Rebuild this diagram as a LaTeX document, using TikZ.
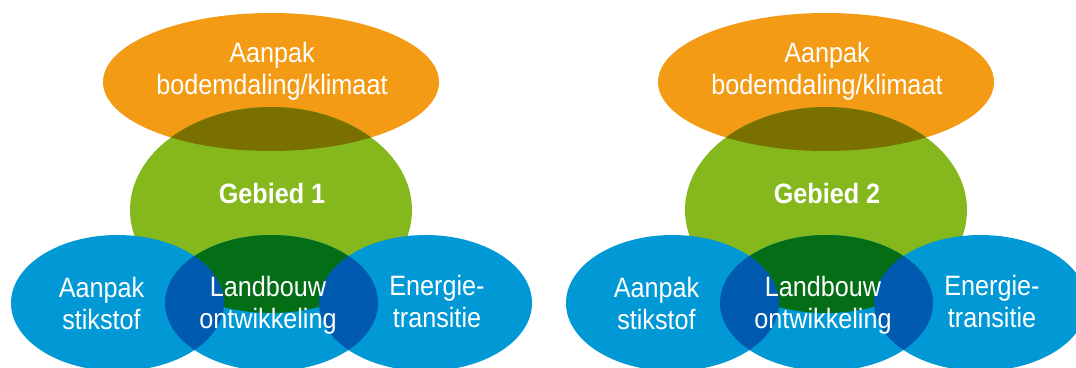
\documentclass[tikz,border=0pt]{standalone}
\usepackage{fontspec}
\setmainfont[FakeStretch=0.9]{Liberation Sans}
\usepackage{xcolor}
\usepackage{tikz}
\usetikzlibrary{positioning}

\definecolor{oranje}{HTML}{F49B15}
\definecolor{groen}{HTML}{84B81C}
\definecolor{olijf}{HTML}{7A7000}
\definecolor{blauw}{HTML}{0099D5}
\definecolor{donkergroen}{HTML}{036E16}
\definecolor{donkerblauw}{HTML}{005BB0}

\begin{document}
\begin{tikzpicture}[
    x=1pt, y=-1pt,
    label/.style={text=white, align=center, inner sep=0pt, font=\fontsize{28}{32}\selectfont},
    gebied/.style={label, font=\fontsize{28}{32}\selectfont\bfseries}
    ]
    \useasboundingbox (0,0) rectangle (1076,367);
    \clip (0,0) rectangle (1076,367);

    % Gebied 1
    \fill[oranje] (271,82) ellipse [x radius=168, y radius=69];
    \fill[groen] (271,210) ellipse [x radius=141, y radius=103];
    \begin{scope}
      \clip (271,82) ellipse [x radius=168, y radius=69];
      \fill[olijf] (271,210) ellipse [x radius=141, y radius=103];
    \end{scope}
    \fill[blauw] (117.5,303) ellipse [x radius=106.5, y radius=68];
    \fill[blauw] (271.5,303) ellipse [x radius=106.5, y radius=68];
    \fill[blauw] (425.5,303) ellipse [x radius=106.5, y radius=68];
    \begin{scope}
      \clip (271,210) ellipse [x radius=141, y radius=103];
      \fill[donkergroen] (271.5,303) ellipse [x radius=106.5, y radius=68];
    \end{scope}
    \begin{scope}
      \clip (117.5,303) ellipse [x radius=106.5, y radius=68];
      \fill[donkerblauw] (271.5,303) ellipse [x radius=106.5, y radius=68];
    \end{scope}
    \begin{scope}
      \clip (425.5,303) ellipse [x radius=106.5, y radius=68];
      \fill[donkerblauw] (271.5,303) ellipse [x radius=106.5, y radius=68];
    \end{scope}
    \node[label] (klimaat1) at (272,71) {Aanpak\\bodemdaling/klimaat};
    \node[gebied] (gebied1) at (272,193) {Gebied 1};
    \node[label] (stikstof1) at (101.5,303) {Aanpak\\stikstof};
    \node[label] (landbouw1) at (268,305) {Landbouw\\ontwikkeling};
    \node[label] (energie1) at (437,301) {Energie-\\transitie};

    % Gebied 2
    \fill[oranje] (826,82) ellipse [x radius=168, y radius=69];
    \fill[groen] (826,210) ellipse [x radius=141, y radius=103];
    \begin{scope}
      \clip (826,82) ellipse [x radius=168, y radius=69];
      \fill[olijf] (826,210) ellipse [x radius=141, y radius=103];
    \end{scope}
    \fill[blauw] (672.5,303) ellipse [x radius=106.5, y radius=68];
    \fill[blauw] (826.5,303) ellipse [x radius=106.5, y radius=68];
    \fill[blauw] (980.5,303) ellipse [x radius=106.5, y radius=68];
    \begin{scope}
      \clip (826,210) ellipse [x radius=141, y radius=103];
      \fill[donkergroen] (826.5,303) ellipse [x radius=106.5, y radius=68];
    \end{scope}
    \begin{scope}
      \clip (672.5,303) ellipse [x radius=106.5, y radius=68];
      \fill[donkerblauw] (826.5,303) ellipse [x radius=106.5, y radius=68];
    \end{scope}
    \begin{scope}
      \clip (980.5,303) ellipse [x radius=106.5, y radius=68];
      \fill[donkerblauw] (826.5,303) ellipse [x radius=106.5, y radius=68];
    \end{scope}
    \node[label] (klimaat2) at (827,71) {Aanpak\\bodemdaling/klimaat};
    \node[gebied] (gebied2) at (827,193) {Gebied 2};
    \node[label] (stikstof2) at (656.5,303) {Aanpak\\stikstof};
    \node[label] (landbouw2) at (823,305) {Landbouw\\ontwikkeling};
    \node[label] (energie2) at (992,301) {Energie-\\transitie};
  \end{tikzpicture}
\end{document}
